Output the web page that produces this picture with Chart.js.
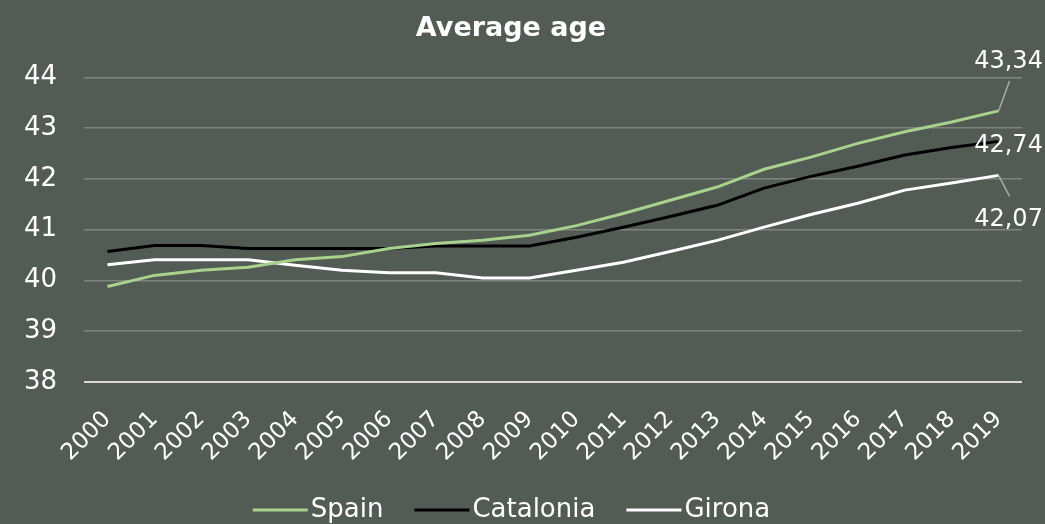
<!DOCTYPE html>
<html>
<head>
<meta charset="utf-8">
<script src="https://cdn.jsdelivr.net/npm/chart.js@4/dist/chart.umd.min.js"></script>
<style>
  html, body { margin: 0; padding: 0; background: #525c54; }
  #wrap { width: 1045px; height: 524px; }
</style>
</head>
<body>
<div id="wrap"><canvas id="chart"></canvas></div>
<script>
const years = ['2000','2001','2002','2003','2004','2005','2006','2007','2008','2009',
  '2010','2011','2012','2013','2014','2015','2016','2017','2018','2019'];
const spain = [39.88, 40.10, 40.20, 40.26, 40.41, 40.47, 40.63, 40.73, 40.79, 40.89,
  41.08, 41.32, 41.58, 41.84, 42.19, 42.43, 42.70, 42.93, 43.12, 43.34];
const catalonia = [40.57, 40.69, 40.69, 40.63, 40.63, 40.63, 40.63, 40.68, 40.68, 40.68,
  40.85, 41.05, 41.26, 41.48, 41.82, 42.05, 42.25, 42.47, 42.62, 42.74];
const girona = [40.31, 40.41, 40.41, 40.41, 40.30, 40.20, 40.15, 40.15, 40.05, 40.05,
  40.20, 40.36, 40.57, 40.79, 41.05, 41.30, 41.52, 41.78, 41.92, 42.07];

const FONT = '"DejaVu Sans"';
const TEXT = '#ffffff';

// value labels on the last point; Spain and Girona get a short leader line
const endLabels = {
  id: 'endLabels',
  afterDatasetsDraw(chart) {
    const { ctx } = chart;
    const place = [
      { dy: -49, lead: -30 },
      { dy: 4, lead: 0 },
      { dy: 44, lead: 21 },
    ];
    ctx.save();
    ctx.font = `24px ${FONT}`;
    ctx.fillStyle = TEXT;
    ctx.textAlign = 'center';
    ctx.textBaseline = 'middle';
    chart.data.datasets.forEach((ds, i) => {
      const meta = chart.getDatasetMeta(i);
      const pt = meta.data[meta.data.length - 1];
      const val = ds.data[ds.data.length - 1];
      const p = place[i];
      if (p.lead) {
        ctx.strokeStyle = '#a6aba7';
        ctx.lineWidth = 1.5;
        ctx.beginPath();
        ctx.moveTo(pt.x, pt.y);
        ctx.lineTo(pt.x + 11, pt.y + p.lead);
        ctx.stroke();
      }
      ctx.fillText(val.toFixed(2).replace('.', ','), pt.x + 10, pt.y + p.dy);
    });
    ctx.restore();
  }
};

// legend drawn by hand: long thin line right next to the name
const lineLegend = {
  id: 'lineLegend',
  afterDraw(chart) {
    const { ctx } = chart;
    const lineW = 55, gap = 3, spacing = 31, y = 510;
    ctx.save();
    ctx.font = `26px ${FONT}`;
    const items = chart.data.datasets.map((ds) => ({
      ds, w: lineW + gap + ctx.measureText(ds.label).width,
    }));
    const total = items.reduce((s, it) => s + it.w, 0) + spacing * (items.length - 1);
    let x = (chart.width - total) / 2 - 11;
    ctx.textBaseline = 'middle';
    ctx.textAlign = 'left';
    items.forEach((it) => {
      ctx.strokeStyle = it.ds.borderColor;
      ctx.lineWidth = 3;
      ctx.beginPath();
      ctx.moveTo(x, y);
      ctx.lineTo(x + lineW, y);
      ctx.stroke();
      ctx.fillStyle = TEXT;
      ctx.fillText(it.ds.label, x + lineW + gap, y);
      x += it.w + spacing;
    });
    ctx.restore();
  }
};

new Chart(document.getElementById('chart'), {
  type: 'line',
  data: {
    labels: years,
    datasets: [
      { label: 'Spain', data: spain, borderColor: '#a9d18e' },
      { label: 'Catalonia', data: catalonia, borderColor: '#000000' },
      { label: 'Girona', data: girona, borderColor: '#ffffff' },
    ].map((d) => Object.assign(d, { borderWidth: 3, pointRadius: 0, tension: 0, fill: false })),
  },
  options: {
    responsive: true,
    maintainAspectRatio: false,
    animation: false,
    layout: { padding: { left: 0, right: 23, top: 0, bottom: 0 } },
    plugins: {
      title: {
        display: true,
        text: 'Average age',
        color: TEXT,
        font: { family: 'DejaVu Sans', size: 27, weight: 'bold' },
        padding: { top: 13, bottom: 32 },
      },
      legend: { display: false },
      tooltip: { enabled: false },
    },
    scales: {
      x: {
        offset: true,
        grid: { display: false },
        border: { display: false },
        afterFit: (s) => { s.height = 142; s.paddingLeft = 0; s.paddingRight = 0; },
        ticks: {
          color: TEXT,
          autoSkip: false,
          font: { family: 'DejaVu Sans', size: 23 },
          maxRotation: 45,
          minRotation: 45,
          padding: 16,
        },
      },
      y: {
        min: 38,
        max: 44,
        afterFit: (s) => { s.width = 84; s.paddingTop = 0; s.paddingBottom = 0; },
        grid: {
          color: (c) => (c.tick.value === 38 ? '#d9d9d9' : '#7d847e'),
          lineWidth: (c) => (c.tick.value === 38 ? 2 : 1.5),
          drawTicks: false,
        },
        border: { display: false },
        ticks: {
          stepSize: 1,
          color: TEXT,
          font: { family: 'DejaVu Sans', size: 26 },
          padding: 27,
        },
      },
    },
  },
  plugins: [endLabels, lineLegend],
});
</script>
</body>
</html>
